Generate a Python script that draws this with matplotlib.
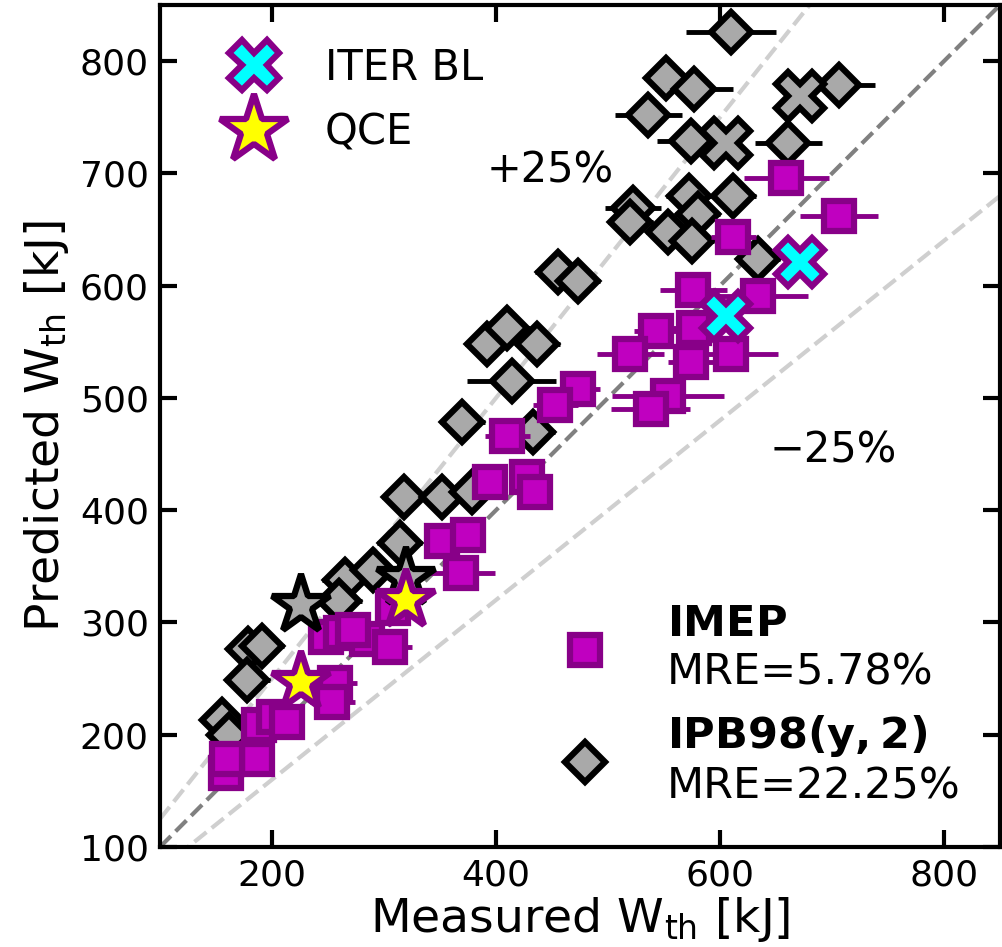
import matplotlib
matplotlib.use("Agg")
import matplotlib.pyplot as plt
from matplotlib.lines import Line2D
import numpy as np

# ---------------- data ----------------
# IPB98(y,2) predictions (gray diamonds)
ipb_meas = [610, 552, 577, 536, 574, 661, 706, 522, 554, 572, 612, 580, 520, 575, 634,
            455, 473, 392, 410, 437, 414, 370, 433, 318, 352, 379, 314, 265, 260, 179,
            191, 178, 155, 162, 290]
ipb_pred = [826, 785, 775, 752, 729, 727, 779, 669, 648, 680, 680, 664, 657, 640, 624,
            612, 604, 548, 562, 548, 515, 479, 470, 412, 412, 416, 371, 338, 319, 276,
            279, 249, 213, 200, 347]
ipb_err = [40, 20, 35, 30, 30, 30, 32, 25, 20, 20, 20, 20, 20, 20, 20,
           20, 20, 20, 20, 20, 40, 20, 20, 20, 20, 20, 20, 20, 20, 20,
           20, 20, 15, 15, 25]

# IMEP predictions (magenta squares)
imep_meas = [612, 576, 634, 577, 543, 520, 574, 610, 554, 538, 473, 453, 659, 706,
             410, 395, 428, 435, 352, 375, 369, 248, 262, 285, 305, 308, 256, 254,
             188, 202, 213, 187, 159, 160, 272]
imep_pred = [643, 596, 591, 562, 560, 539, 532, 539, 502, 490, 508, 494, 696, 662,
             466, 425, 430, 416, 373, 378, 344, 287, 291, 285, 278, 313, 246, 229,
             209, 216, 211, 178, 166, 178, 293]
imep_err = [20, 30, 45, 20, 20, 30, 20, 42, 50, 35, 20, 20, 38, 35,
            20, 15, 15, 15, 15, 15, 30, 15, 15, 15, 20, 15, 20, 20,
            15, 15, 15, 15, 10, 10, 15]

# ITER baseline and QCE discharges
iter_meas = [605, 671]
iter_imep = [573, 621]
iter_ipb = [727, 769]
qce_meas = [226, 320]
qce_imep = [247, 320]
qce_ipb = [316, 340]

# ---------------- styling ----------------
MAG = "#C000C0"
PUR = "#880088"
GRY = "#A9A9A9"

fig = plt.figure(figsize=(10.03, 9.47), dpi=100)
ax = fig.add_axes([0.1595, 0.1056, 0.8375, 0.8891])

lims = (100, 850)
ax.set_xlim(lims)
ax.set_ylim(lims)

xx = np.array(lims, dtype=float)
ax.plot(xx, xx, ls="--", color="#808080", lw=3, zorder=1)
ax.plot(xx, xx * 1.25, ls="--", color="#CFCFCF", lw=3, zorder=1)
ax.plot(xx, xx / 1.25, ls="--", color="#CFCFCF", lw=3, zorder=1)

ms_d, ms_s, mew = 20, 22, 4.5
ms_x, ms_star = 34, 44

ax.errorbar(ipb_meas, ipb_pred, xerr=ipb_err, fmt="none", ecolor="black",
            elinewidth=3.5, capsize=0, zorder=2)
ax.plot(ipb_meas, ipb_pred, ls="none", marker="D", ms=ms_d, mfc=GRY, mec="black",
        mew=mew, zorder=3)
ax.errorbar(imep_meas, imep_pred, xerr=imep_err, fmt="none", ecolor=PUR,
            elinewidth=3.5, capsize=0, zorder=4)
ax.plot(imep_meas, imep_pred, ls="none", marker="s", ms=ms_s, mfc=MAG, mec=PUR,
        mew=mew, zorder=5)

ax.plot(iter_meas, iter_ipb, ls="none", marker="X", ms=ms_x, mfc=GRY, mec="black",
        mew=mew, zorder=6)
ax.plot(qce_meas, qce_ipb, ls="none", marker="*", ms=ms_star, mfc=GRY, mec="black",
        mew=mew, zorder=6)
ax.plot(iter_meas, iter_imep, ls="none", marker="X", ms=ms_x, mfc="cyan", mec=PUR,
        mew=mew, zorder=7)
ax.plot(qce_meas, qce_imep, ls="none", marker="*", ms=ms_star, mfc="yellow", mec=PUR,
        mew=mew, zorder=7)

ax.text(448, 703, "+25%", fontsize=30, ha="center", va="center")
ax.text(701, 453, "\u221225%", fontsize=30, ha="center", va="center")

ax.set_xticks([200, 400, 600, 800])
ax.set_yticks([100, 200, 300, 400, 500, 600, 700, 800])
ax.tick_params(direction="in", length=12, width=3, labelsize=26, top=True, right=True,
               pad=8)
for s in ax.spines.values():
    s.set_linewidth(3)

ax.set_xlabel(r"Measured W$_{\rm th}$ [kJ]", fontsize=34, labelpad=2)
ax.set_ylabel(r"Predicted W$_{\rm th}$ [kJ]", fontsize=34, labelpad=6)

h1 = [Line2D([], [], ls="none", marker="X", ms=36, mfc="cyan", mec=PUR, mew=mew),
      Line2D([], [], ls="none", marker="*", ms=52, mfc="yellow", mec=PUR, mew=mew)]
leg1 = ax.legend(h1, ["ITER BL", "QCE"], loc="upper left", fontsize=30, frameon=False,
                 handletextpad=0.70, labelspacing=0.55, borderaxespad=0.6,
                 bbox_to_anchor=(0.013, 1.0))
ax.add_artist(leg1)

h2 = [Line2D([], [], ls="none", marker="s", ms=ms_s, mfc=MAG, mec=PUR, mew=mew),
      Line2D([], [], ls="none", marker="D", ms=ms_d, mfc=GRY, mec="black", mew=mew)]
ax.legend(h2, ["$\\bf{IMEP}$\nMRE=5.78%", "$\\bf{IPB98(y,2)}$\nMRE=22.25%"],
          loc="lower right", fontsize=31, frameon=False, handletextpad=0.89,
          labelspacing=0.45, borderaxespad=0.52, bbox_to_anchor=(1.0, 0.0))

fig.savefig("out.png", dpi=100)
